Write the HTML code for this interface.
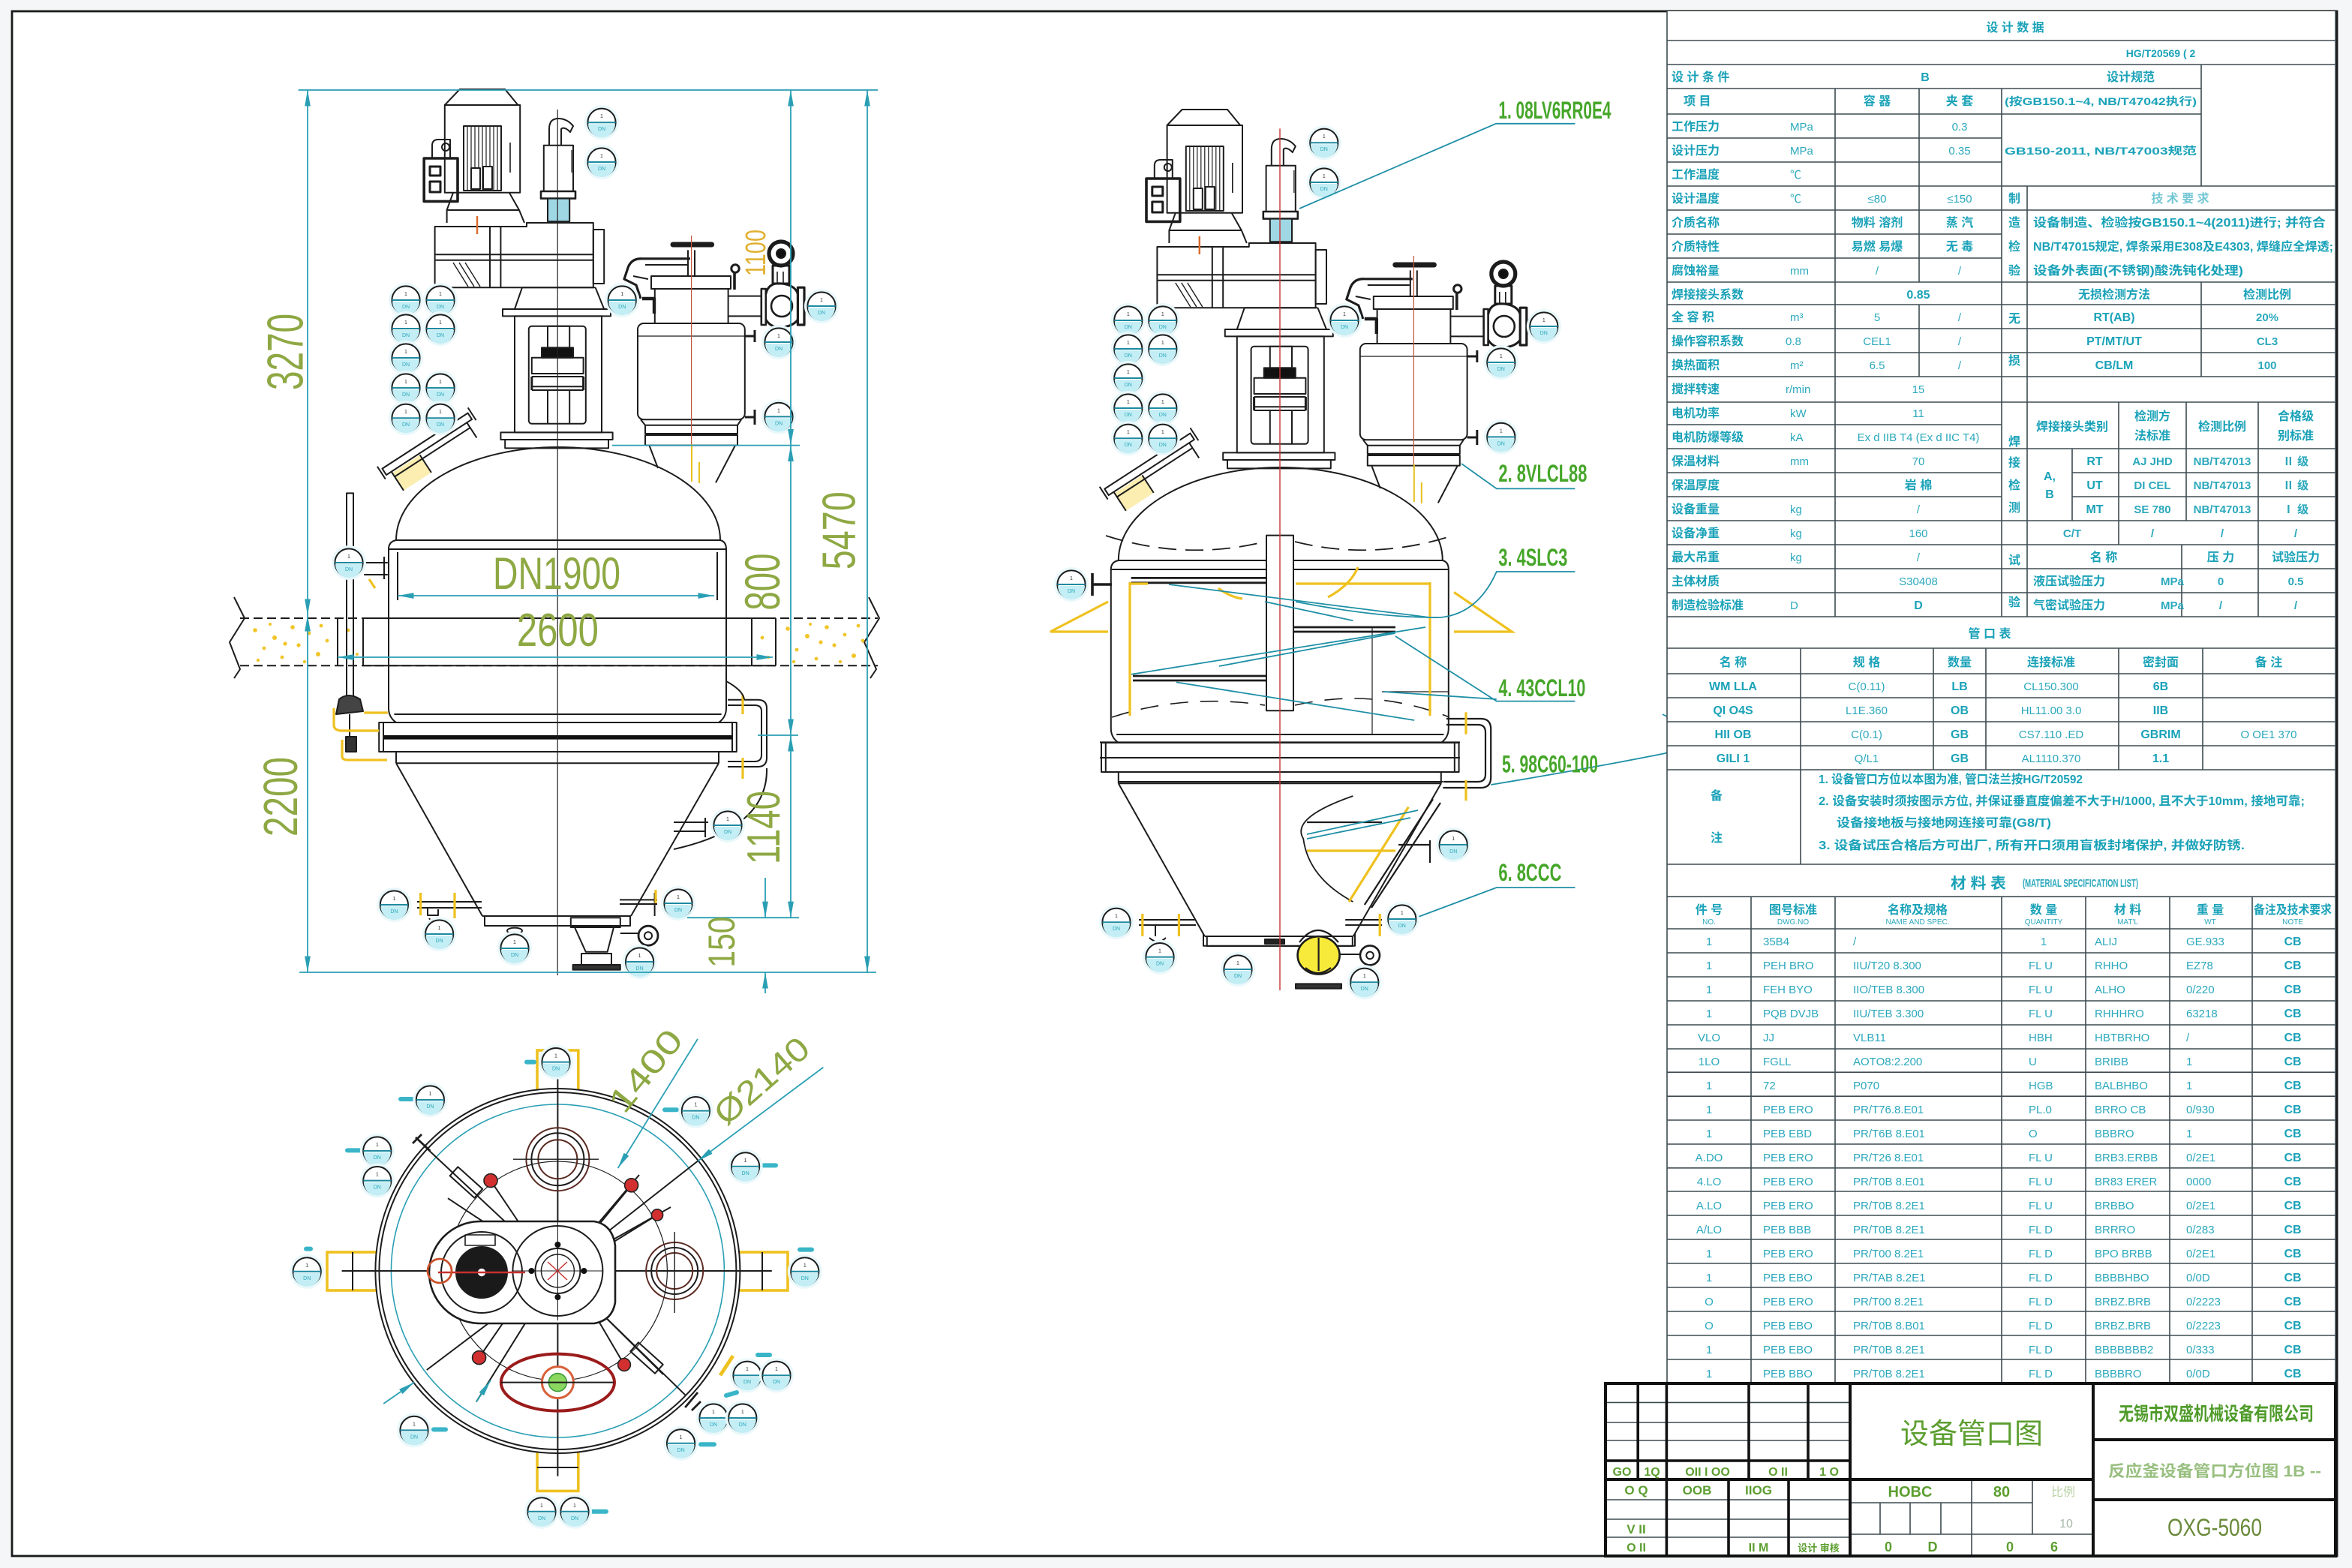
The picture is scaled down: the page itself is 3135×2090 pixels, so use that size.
<!DOCTYPE html>
<html><head><meta charset="utf-8"><style>
html,body{margin:0;padding:0;background:#f4f6f7;overflow:hidden;width:3135px;height:2090px}
svg{display:block}
.k{fill:none;stroke:#1c1c1c;stroke-width:1;stroke-linejoin:round}
.tl{fill:none;stroke:#3d4b50;stroke-width:0.8}
.tb{fill:none;stroke:#111;stroke-width:2}
.dm{fill:none;stroke:#2a9fb4;stroke-width:0.9}
.c{fill:#1aa2b8;font-size:8px;font-weight:bold}
.cn{fill:#2aa8bc;font-size:7.5px}
.cs{fill:#2aa8bc;font-size:5px}
.dt{fill:#8ea843}
.g{fill:#46a62a;font-size:16px;font-weight:bold}
.y{fill:none;stroke:#efc11f;stroke-width:1.6}
.bl{fill:none;stroke:#1e8fa5;stroke-width:0.9}
.gt{fill:#5c9e30}
</style></head><body>
<svg xmlns="http://www.w3.org/2000/svg" xmlns:xlink="http://www.w3.org/1999/xlink" width="3135" height="2090" viewBox="0 0 1567.5 1045" font-family="'Liberation Sans','Noto Sans CJK SC',sans-serif">
<defs>
<marker id="a" viewBox="0 0 10 10" refX="10" refY="5" markerWidth="12" markerHeight="12" orient="auto-start-reverse"><path d="M0,3.2L10,5L0,6.8Z" fill="#2a9fb4"/></marker>
<g id="b">
<circle r="11.5" fill="#e9f8fb"/>
<circle r="9.3" fill="#fff" stroke="#1c1c1c" stroke-width="1"/>
<path d="M-9,1A9,9 0 0 0 9,1Z" fill="#c4eef5"/>
<path d="M-9.3,0H9.3" stroke="#1d8aa0" stroke-width="1"/>
<text x="0" y="-3" font-size="3.5" text-anchor="middle" fill="#333">1</text>
<text x="0" y="5.5" font-size="3.5" text-anchor="middle" fill="#2aa8bc">DN</text>
</g>
<g id="body">
<path class="k" d="M264,360A108,62 0 0 1 480,360"/>
<path class="k" d="M264,360H480M259,366Q259,361 264,360M484,366Q484,361 480,360M259,366H484"/>
<path class="k" d="M259,366V472Q259,478 264,481.5M484,366V472Q484,478 479,481.5M262.7,476H480.8"/>
<rect class="k" x="252.6" y="481.5" width="238.3" height="19.5"/>
<path class="k" d="M255.5,481.5V501M488,481.5V501M264,501V508.6M479,501V508.6M264,508.6H479"/>
<path class="k" d="M264,508.6L321.5,610.5M479,508.6L420.5,610.5M321.5,610.5H420.5M323,610.5V617H420V610.5"/>
</g>
<g id="top">
<g class="k">
<path d="M306.4,59.5H336.6L345.2,70H296.4Z"/>
<rect x="296.4" y="70" width="50.2" height="58.4"/>
<rect x="309" y="84" width="25" height="43"/>
<path d="M311.5,84V127M314,84V127M316.5,84V127M319,84V127M321.5,84V127M324,84V127M326.5,84V127M329,84V127M331.5,84V127" stroke-width="0.6"/>
<rect x="314" y="112" width="6" height="14" fill="#fff"/><rect x="322" y="111" width="6" height="15" fill="#fff"/>
<path d="M340,95V115" stroke-width="0.8"/>
<rect x="282.6" y="105.5" width="22.4" height="28.7" stroke-width="1.8"/>
<rect x="286.5" y="111" width="7" height="6" stroke-width="1.5"/><rect x="286.5" y="121" width="7" height="7" stroke-width="1.5"/>
<path d="M288,105.5V97Q288,93 292,93H300V105.5"/>
<circle cx="297" cy="98" r="2.5"/>
<path d="M302,128.4L297.8,140V148.5M339.4,128.4L346,140L349.5,148.5M297.8,140H346"/>
<path d="M289.8,151H351V148.5H395.4V191.6H289.8Z"/>
<rect x="395.4" y="153" width="7.2" height="36"/>
<path d="M326.5,151V191.6M333.7,151V191.6M289.8,169.6H395.4M289.8,173.4H395.4"/>
<path d="M302,175L312,191M306,175L316,191M310,175L320,191" stroke-width="0.7"/>
<path d="M348,191.6L343,206M396.8,191.6L402.6,206M348,191.6H396.8"/>
<rect x="335" y="206" width="72" height="4.7"/>
<rect x="343" y="210.7" width="58" height="77.5"/>
<rect x="352.4" y="217.4" width="38" height="65" rx="2"/>
<rect x="365" y="217.4" width="14.6" height="14.3"/>
<rect x="361" y="231.7" width="21" height="6.7" fill="#111"/>
<rect x="354.4" y="238.4" width="34.4" height="10.6"/>
<path d="M354.4,251H388.8M354.4,257.6H388.8M354.4,260H388.8M365,260V282.4M379.6,260V282.4"/>
<path d="M354.4,251V260M388.8,251V260" stroke-width="1.5"/>
<rect x="333.7" y="288.2" width="74.6" height="4.8"/>
<rect x="336.6" y="293" width="68.9" height="5.7"/>
<rect x="362.4" y="96.9" width="19.6" height="30.6"/>
<path d="M366,96.9V86Q366,79 372,79Q378,79 382,84L380,88Q376,84 374,86V96.9"/>
<path d="M381,100V115" stroke-width="0.6"/>
<rect x="360.5" y="127.5" width="23" height="4.8" stroke-width="1.3"/>
<rect x="365" y="132.3" width="14.6" height="15.3" fill="#9fd7e4"/>
<rect x="434" y="184" width="53" height="8.5"/>
<rect x="436.4" y="192.5" width="48.9" height="23"/>
<rect x="425" y="215.5" width="71.4" height="64.1" rx="4"/>
<path d="M425,224H496.4" stroke-width="0.6"/>
<rect x="430" y="283.4" width="61.5" height="5.6"/>
<rect x="430" y="290" width="61.5" height="6.8"/>
<path d="M432.7,296.8L438.5,312M490,296.8L477,321.7M427,279.6L430,283.4M494,279.6L491.5,283.4"/>
<path d="M448.5,163H474.3" stroke-width="3.5" stroke-linecap="round"/>
<path d="M458.5,166.7V184M463,166.7V184"/>
<path d="M460,172.4H428Q420,172 418,180L416,186L424,190L427,199" stroke-width="1.6"/>
<path d="M430,176.5H458M422,184L432,186"/>
<path d="M428,199H436V209" stroke-width="2.2"/>
<circle cx="490" cy="179" r="2.6" stroke-width="1.5"/><path d="M489.5,182V193" stroke-width="1.8"/>
<path d="M485.3,197.3H507.4V210.7H485.3"/>
<rect x="507.4" y="192.5" width="3" height="24" stroke-width="1.3"/>
<circle cx="520.5" cy="169" r="8" stroke-width="2.6"/><circle cx="520.5" cy="169" r="3" fill="#111"/>
<rect x="515" y="177" width="11" height="12" stroke-width="1.5"/>
<path d="M518,181V189M522,181V189" stroke-width="0.8"/>
<path d="M510.4,196Q512,188 521,189Q530,190 531.7,196M510.4,213Q514,219 522,218Q529,217 531.7,213" stroke-width="1.5"/>
<circle cx="521" cy="204" r="7" stroke-width="1.3"/>
<rect x="531.7" y="191.6" width="4.3" height="24.9" stroke-width="1.6"/>
<path d="M496.4,224H503M503,220V228" stroke-width="1.5"/>
<path d="M496.4,278H503M503,273V283" stroke-width="1.5"/>
</g>
<path d="M460.8,157V296" stroke="#c0553a" stroke-width="0.6" fill="none"/>
<path d="M461,296V321M466,308V322" stroke="#e8c020" stroke-width="1" fill="none"/>
<path d="M318,144V156" stroke="#d86a2a" stroke-width="1.2"/>
<g transform="translate(286,298) rotate(-33)">
<rect x="-30" y="1" width="22" height="14" fill="#fbeeb0"/>
<rect class="k" x="-34" y="-5" width="68" height="5" stroke-width="1.4"/>
<path class="k" d="M-36,-8V2M36,-8V2" stroke-width="2.4"/>
<path class="k" d="M-30,0V15M30,0V12M-30,4H30"/>
<path class="k" d="M-8,1V15"/>
</g>
<use href="#b" x="401" y="81.6"/><use href="#b" x="401" y="108"/>
<use href="#b" x="270.5" y="200"/><use href="#b" x="293.5" y="200"/>
<use href="#b" x="270.5" y="219"/><use href="#b" x="293.5" y="219"/>
<use href="#b" x="270.5" y="238.5"/>
<use href="#b" x="270.5" y="258.5"/><use href="#b" x="293.5" y="258.5"/>
<use href="#b" x="270.5" y="278.6"/><use href="#b" x="293.5" y="278.6"/>
<use href="#b" x="414.6" y="200"/><use href="#b" x="547.5" y="204"/>
<use href="#b" x="519" y="228"/><use href="#b" x="519" y="277.7"/>
</g>
</defs>

<!-- paper -->
<rect x="8" y="7.5" width="1549.5" height="1029.5" fill="#fff" stroke="#1a1a1a" stroke-width="1.4"/>

<!-- ================= LEFT ELEVATION ================= -->
<path class="k" d="M160,412H585M160,443.6H585" stroke-dasharray="6,3" stroke-width="0.9"/>
<path class="k" d="M242,412H517M242,443.6H517" stroke-width="0.9"/>
<path class="k" d="M156,398L163,412L153,428L160,446L156,452M579,398L586,412L576,428L584,446L580,452" stroke-width="0.9"/>
<path class="k" d="M225,412V443.6M242,412V443.6M501,412V443.6M517,412V443.6" stroke-width="0.8"/>
<g fill="#f0c528">
<circle cx="170" cy="420" r="1.4"/><circle cx="176" cy="432" r="1.2"/><circle cx="183" cy="425" r="1.5"/><circle cx="188" cy="438" r="1.2"/><circle cx="195" cy="418" r="1.4"/><circle cx="199" cy="430" r="1.3"/><circle cx="206" cy="422" r="1.2"/><circle cx="212" cy="436" r="1.5"/><circle cx="218" cy="427" r="1.2"/><circle cx="172" cy="440" r="1.1"/><circle cx="190" cy="429" r="1.3"/><circle cx="203" cy="441" r="1.1"/><circle cx="214" cy="417" r="1.2"/><circle cx="180" cy="416" r="1"/><circle cx="232" cy="420" r="1.2"/><circle cx="238" cy="436" r="1"/>
<circle cx="525" cy="419" r="1.4"/><circle cx="531" cy="433" r="1.2"/><circle cx="538" cy="424" r="1.5"/><circle cx="544" cy="439" r="1.2"/><circle cx="551" cy="418" r="1.4"/><circle cx="556" cy="430" r="1.3"/><circle cx="563" cy="423" r="1.2"/><circle cx="569" cy="437" r="1.5"/><circle cx="575" cy="427" r="1.2"/><circle cx="529" cy="441" r="1.1"/><circle cx="547" cy="428" r="1.3"/><circle cx="560" cy="441" r="1.1"/><circle cx="572" cy="417" r="1.2"/><circle cx="540" cy="416" r="1"/><circle cx="508" cy="425" r="1.2"/><circle cx="512" cy="438" r="1"/>
</g>
<use href="#body"/>
<rect x="256" y="490" width="232" height="2.8" fill="#111"/>
<path class="k" d="M265,368V400M478,368V400" stroke-width="0.8"/>
<use href="#top"/>
<path d="M371.6,73V650" stroke="#222" stroke-width="0.6"/>
<g class="k">
<path d="M380.4,611.6H413.4V618H380.4Z"/>
<path d="M383,618H409L404.8,634.4H390.4Z"/>
<rect x="387.5" y="635.5" width="20" height="7.5"/>
<rect x="381.8" y="643" width="31.6" height="3.3" fill="#333"/>
<path d="M413.4,622H425"/>
<circle cx="432" cy="623.6" r="6.5" stroke-width="1.4"/><circle cx="432" cy="623.6" r="2.5"/>
<ellipse cx="343" cy="620.3" rx="5" ry="2" />
<path d="M278,601H321M278,605H321M413,599.7H438M413,602.5H438M436.3,595V610.5"/>
<path d="M285,605V610H292V606M286,612Q288.5,616 291,612"/>
<path d="M449,548H472M449,554H470M470,545V558"/>
</g>
<path class="y" d="M280.3,595V610M303,595V612M437,593V602" stroke-width="2.2"/>
<g class="k">
<rect x="231" y="328.7" width="4.5" height="136"/>
<path d="M226,466Q232,461 240,466L242,474L224,476Z" fill="#444"/>
<path d="M233,476V491"/>
<rect x="230.5" y="491" width="7" height="10" fill="#333"/>
<path d="M242.6,375H258.4M242.6,383H258.4M256,371V386"/>
</g>
<path class="y" d="M222.5,472V483Q222.5,487 228,487H252.6M242.6,475H258.4M228,493V504Q228,506.5 232,506.5H258M246,386L250,392"/>
<path class="k" d="M485,466.4H505Q511,466.4 511,472V505Q511,511 505,511H485M485,470H503Q507.5,470 507.5,474V503Q507.5,507.5 503,507.5H485" stroke-width="1.1"/>
<path class="y" d="M495,463V476M495,505V519" stroke-width="2.6"/>
<path class="k" d="M511,512Q512,552 449,566M484,454Q495,460 496,466" stroke-width="0.9"/>
<use href="#b" x="232.5" y="375"/>
<use href="#b" x="262.7" y="603"/><use href="#b" x="292.8" y="622.5"/>
<use href="#b" x="343" y="632"/><use href="#b" x="426.3" y="641"/>
<use href="#b" x="452" y="602"/><use href="#b" x="485" y="550"/>
<g class="dm">
<path d="M198.8,60H585M199.5,648H584M408,296.8H533M505,490H532M458,611.6H532.5"/>
<path d="M205,60V410" marker-start="url(#a)" marker-end="url(#a)"/>
<path d="M205,410V648" marker-start="url(#a)" marker-end="url(#a)"/>
<path d="M527,60V296.8" marker-start="url(#a)" marker-end="url(#a)"/>
<path d="M527,296.8V490" marker-start="url(#a)" marker-end="url(#a)"/>
<path d="M527,490V611.6" marker-start="url(#a)" marker-end="url(#a)"/>
<path d="M578,60V648" marker-start="url(#a)" marker-end="url(#a)"/>
<path d="M510,585V611.6" marker-end="url(#a)"/>
<path d="M510,662V648" marker-end="url(#a)"/>
<path d="M265,397H476" marker-start="url(#a)" marker-end="url(#a)"/>
<path d="M225,438H515" marker-start="url(#a)" marker-end="url(#a)"/>
</g>
<g class="dt">
<text transform="translate(201.7,234.5) rotate(-90)" font-size="34" text-anchor="middle" textLength="51" lengthAdjust="spacingAndGlyphs">3270</text>
<text transform="translate(198,531) rotate(-90)" font-size="32" text-anchor="middle" textLength="53" lengthAdjust="spacingAndGlyphs">2200</text>
<text transform="translate(569.8,353.6) rotate(-90)" font-size="31" text-anchor="middle" textLength="52" lengthAdjust="spacingAndGlyphs">5470</text>
<text transform="translate(519.6,387.8) rotate(-90)" font-size="33" text-anchor="middle" textLength="38" lengthAdjust="spacingAndGlyphs">800</text>
<text transform="translate(519.6,551.5) rotate(-90)" font-size="31" text-anchor="middle" textLength="49" lengthAdjust="spacingAndGlyphs">1140</text>
<text transform="translate(489.4,627.8) rotate(-90)" font-size="25" text-anchor="middle" textLength="34" lengthAdjust="spacingAndGlyphs">150</text>
<text x="371" y="392.6" font-size="30" text-anchor="middle" textLength="85" lengthAdjust="spacingAndGlyphs">DN1900</text>
<text x="371.7" y="430.6" font-size="31" text-anchor="middle" textLength="54.5" lengthAdjust="spacingAndGlyphs">2600</text>
</g>
<text transform="translate(510,168.5) rotate(-90)" font-size="19" fill="#e0b030" text-anchor="middle" textLength="31" lengthAdjust="spacingAndGlyphs">1100</text>

<!-- ================= MIDDLE ELEVATION ================= -->
<use href="#body" transform="translate(481.4,13.5)"/>
<use href="#top" transform="translate(481.4,13.5)"/>
<g class="k">
<path d="M737,357Q790,374 843,361M863,361Q915,374 968,357" stroke-dasharray="12,6" stroke-width="0.9"/>
<path d="M741,478Q790,462 843,470M863,470Q915,458 966,478" stroke-dasharray="12,8" stroke-width="0.8"/>
<rect x="844" y="356.8" width="18" height="116.8" fill="#fff"/>
<path d="M753.8,385.2H844M753.8,388.4H844M862,418H930M862,421H930M755,450.5H844M755,453.5H844" stroke-width="1.4"/>
<path d="M914.5,418V490M921,461H965.5" stroke-width="0.6"/>
<path d="M728,382V397M728,389.5H741" stroke-width="1.8"/>
<path d="M733,494.7H973M733,505H973" />
<path d="M745,521H961.7" />
<path d="M802,622V630.4H903V622" />
<path d="M843,626H856V629H843Z" fill="#222"/>
<path d="M901.7,530.5Q860,545 868.6,558.9Q872,585 901.7,601" stroke-width="0.9"/>
<path d="M871,548H921M955,532.6L909.4,603M960,535L914,605M932,563H953M953,560V575" stroke-width="1.1"/>
<path d="M964,479H987Q993.6,479 993.6,486V518Q993.6,525 987,525H961.7M964,483H985Q990,483 990,488V516Q990,521 985,521H962" stroke-width="1.1"/>
<path d="M759,613H797M759,616.5H797M896.6,613H921M896.6,616.5H921M770,617V624M766,625Q771.6,630 777,625" />
<ellipse cx="878.8" cy="636.7" rx="14" ry="12.6" fill="#f7ea3a" stroke-width="1.3"/>
<path d="M866,628Q878,612 892,628M870,645Q878,652 887,645M878.8,625V647" stroke-width="1.1"/>
<rect x="863.5" y="655.7" width="30.5" height="3.1" fill="#333"/>
<circle cx="913" cy="636.7" r="6.5" stroke-width="1.3"/><circle cx="913" cy="636.7" r="2.4"/>
<path d="M893,636H906"/>
</g>
<path d="M853,85.7V660" stroke="#c43434" stroke-width="0.7"/>
<path class="y" d="M753,388V477M953,388V477M863.5,389H953M753,389H765M871,567H930M938.7,537.8L899,601M761.4,609V624M785.7,609V624M919.6,609V624M977,474.7V489.4M977,520V533.6"/>
<path class="y" d="M738.5,401L700,421H738.5M969,394.7L1007.6,421H969"/>
<path class="y" d="M812,392Q820,398 828,399M885,398Q900,390 905,378"/>
<g class="bl">
<path d="M779,389.5L952.8,411.5M754,449.4L950,418M784,454.7L942.6,480M843,401L901.7,413.6M812.4,444L929.8,422M871,556L945,540M871,559L940,545"/>
</g>
<g class="bl">
<path d="M866,139L997,82.4H1049.7"/>
<path d="M974,309L997.4,325.7H1049.7"/>
<path d="M863.5,401Q920,412 960,411.5Q985,409 997.4,381H1049.7"/>
<path d="M930,424L997.4,467.3H1049.7M922,461L997.4,466"/>
<path d="M1108,476Q1132,488 1110,502Q1060,512 993.6,523"/>
<path d="M944,611.5L997.4,591.5H1049.7"/>
</g>
<g class="g">
<text x="998.7" y="79" textLength="75" lengthAdjust="spacingAndGlyphs">1. 08LV6RR0E4</text>
<text x="998.7" y="321" textLength="59" lengthAdjust="spacingAndGlyphs">2. 8VLCL88</text>
<text x="998.7" y="377" textLength="46" lengthAdjust="spacingAndGlyphs">3. 4SLC3</text>
<text x="998.7" y="464" textLength="58" lengthAdjust="spacingAndGlyphs">4. 43CCL10</text>
<text x="1001" y="514.7" textLength="64" lengthAdjust="spacingAndGlyphs">5. 98C60-100</text>
<text x="998.7" y="587" textLength="42" lengthAdjust="spacingAndGlyphs">6. 8CCC</text>
</g>
<use href="#b" x="714" y="389.5"/><use href="#b" x="744" y="614.6"/><use href="#b" x="773" y="637.8"/>
<use href="#b" x="825" y="646"/><use href="#b" x="909.4" y="654.6"/><use href="#b" x="934.4" y="612.5"/>
<use href="#b" x="968.6" y="563"/>

<!-- ================= PLAN VIEW ================= -->
<g>
<rect x="358" y="700" width="27.4" height="32.5" fill="none" stroke="#efc11f" stroke-width="1.8"/>
<rect x="218" y="834.5" width="34.5" height="25.5" fill="none" stroke="#efc11f" stroke-width="1.8"/>
<rect x="491" y="834.5" width="34" height="25.5" fill="none" stroke="#efc11f" stroke-width="1.8"/>
<rect x="358" y="960" width="27.4" height="33.7" fill="none" stroke="#efc11f" stroke-width="1.8"/>
<path class="k" d="M235,834.5V860M508,834.5V860M358,978H385.4" stroke-width="0.7"/>
<circle cx="371.7" cy="847" r="121.5" fill="#fff" stroke="#1c1c1c" stroke-width="1"/>
<circle cx="371.7" cy="847" r="119" fill="none" stroke="#1c1c1c" stroke-width="1"/>
<circle cx="371.7" cy="847" r="111" fill="none" stroke="#2a9fb4" stroke-width="0.8"/>
<circle cx="371.7" cy="847" r="73" fill="none" stroke="#1c1c1c" stroke-width="0.6"/>
<g class="k" stroke-width="0.55">
<path d="M371.7,699.5V983.8M227.8,847H514.4"/>
<path d="M283,764L345.4,822.4M298.5,798.6L341.7,827.2M426,783L395,819.6M447,804.5L403,829.3M465,773.8L400,824.8M284.4,913L343,868.7M456.6,929.6L397.5,872M317.4,934.3L352.7,877.6M442,916L397.5,872"/>
<path d="M327,786.8L348,818M420.8,789.9L396,820M438,809.7L402,832M319.3,904.8L346,866M416,909.5L394,872"/>
</g>
<g class="k">
<circle cx="371.7" cy="772.6" r="21" stroke="#5a2a22"/><circle cx="371.7" cy="772.6" r="17.5"/><circle cx="371.7" cy="772.6" r="13" stroke="#5a2a22"/>
<path d="M342,772.6H399" stroke-width="0.7"/>
<circle cx="449.6" cy="847" r="19" stroke="#5a2a22"/><circle cx="449.6" cy="847" r="15.5"/><circle cx="449.6" cy="847" r="12" stroke="#5a2a22"/>
<path d="M449.6,821V875" stroke-width="0.7"/>
<path d="M320,814H396Q408,816 410,830V868Q408,880 396,882H320A34,34 0 0 1 320,814Z" stroke-width="1.3" fill="#fff"/>
<circle cx="321" cy="848" r="27"/>
<path d="M310,823H330V830H310Z" stroke-width="0.8"/>
<circle cx="321" cy="848" r="17" fill="#1a1a1a"/>
<circle cx="321" cy="848" r="2.6" fill="#fff" stroke="none"/>
<circle cx="371.7" cy="847" r="30"/>
<circle cx="371.7" cy="847" r="15"/><circle cx="371.7" cy="847" r="11" stroke-width="0.7"/>
<path d="M371.7,814V880M341,847H402" stroke-width="0.55"/>
<rect x="299.7" y="784" width="22" height="8" transform="rotate(42 310.7 788)"/>
<rect x="420" y="901" width="22" height="8" transform="rotate(42 431 905)"/>
<path d="M277,758L286.7,767M275,762L281,756M456.6,938L465,928M461,940L467,934" stroke-width="1.4"/>
</g>
<g fill="#111"><circle cx="371.7" cy="829.5" r="2"/><circle cx="371.7" cy="864.5" r="2"/><circle cx="354.2" cy="847" r="2"/><circle cx="389.2" cy="847" r="2"/></g>
<path d="M365,841L378,853M378,841L365,853" stroke="#c83030" stroke-width="0.7"/>
<path d="M292,848H350" stroke="#c83030" stroke-width="1.3"/>
<circle cx="293" cy="847" r="8" fill="none" stroke="#c8502a" stroke-width="1.4"/>
<ellipse cx="371.7" cy="921.3" rx="37.8" ry="19" fill="none" stroke="#9b1b1b" stroke-width="2"/>
<circle cx="371.7" cy="921.3" r="10.5" fill="#fff" stroke="#d8603a" stroke-width="1.5"/>
<circle cx="371.7" cy="921.3" r="6" fill="#8ad860" stroke="#3e9a3a" stroke-width="0.8"/>
<path class="k" d="M334,921.3H409" stroke-width="0.6"/>
<g fill="#d23030" stroke="#222" stroke-width="0.8">
<circle cx="327" cy="786.8" r="4.5"/><circle cx="420.8" cy="789.9" r="4.5"/><circle cx="438" cy="809.7" r="3.8"/><circle cx="319.3" cy="904.8" r="4.5"/><circle cx="416" cy="909.5" r="4.2"/>
</g>
<path d="M480,916.6L488.5,903.6" stroke="#efc11f" stroke-width="2.4"/>
<g class="dm">
<path d="M465,692.4L411.8,778.5" marker-end="url(#a)"/>
<path d="M548.7,711.3L465,773.8" marker-end="url(#a)"/>
<path d="M255.6,935.5L276,921.3" marker-end="url(#a)"/>
<path d="M317.4,934.3L326.9,920" marker-end="url(#a)"/>
</g>
<text transform="translate(430.7,714) rotate(-51)" font-size="22" class="dt" text-anchor="middle" y="7" textLength="64" lengthAdjust="spacingAndGlyphs">1400</text>
<text transform="translate(508,720.7) rotate(-41)" font-size="22" class="dt" text-anchor="middle" y="7" textLength="76" lengthAdjust="spacingAndGlyphs">Ø2140</text>
<g stroke="#3ab5c8" stroke-width="3" stroke-linecap="round" fill="none">
<path d="M351,707.8H356M267,732.5H275M231.5,766.7H240M204,832.3H207M443,739.6H451M509,776.7H517M533,832.8H541M505,903H513M484,930L491,928M467,962.6H476M289,952.7H297M395,1007.4H404"/>
</g>
<use href="#b" x="370.5" y="707.8"/><use href="#b" x="286.7" y="733"/><use href="#b" x="251.4" y="767"/>
<use href="#b" x="251.4" y="786.8"/><use href="#b" x="204.6" y="847.4"/><use href="#b" x="463.7" y="740.3"/>
<use href="#b" x="496.8" y="777.4"/><use href="#b" x="536.4" y="847.4"/><use href="#b" x="498" y="916.6"/>
<use href="#b" x="517.5" y="916.6"/><use href="#b" x="475.5" y="945"/><use href="#b" x="494.9" y="945"/>
<use href="#b" x="453.8" y="961.9"/><use href="#b" x="276" y="953.2"/><use href="#b" x="361" y="1007.4"/>
<use href="#b" x="383" y="1007.4"/>
</g>

<!-- ================= TABLES ================= -->
<rect x="1111" y="7.5" width="445.5" height="914.5" fill="#fff"/>
<g class="tl">
<path d="M1111,7.5V922M1556.5,7.5V922"/>
<path d="M1111,27H1556.5M1111,43H1556.5M1111,59H1467M1111,76H1467M1111,92H1334M1111,108H1334M1111,124H1556.5M1111,140H1556.5M1111,156H1334M1111,172H1334M1111,188H1556.5M1111,203H1556.5M1111,219H1556.5M1111,235H1556.5M1111,251H1556.5M1111,268H1556.5M1111,283H1334M1111,299H1556.5M1111,315H1334M1381,315H1556.5M1111,331H1334M1381,331H1556.5M1111,347H1556.5M1111,363H1556.5M1111,379H1556.5M1111,395H1556.5M1111,411H1556.5"/>
<path d="M1223,59V411M1279,59V188M1279,203V251M1334,59V411M1351,124V411M1467,43V124M1467,188V251M1412,268V363M1457,268V347M1505,268V411M1381,299V347M1454,363V411"/>
<path d="M1111,432H1556.5M1111,449H1556.5M1111,465H1556.5M1111,481H1556.5M1111,497H1556.5M1111,513H1556.5M1111,576H1556.5M1111,597.6H1556.5M1111,619H1556.5"/>
<path d="M1200,432V576M1288.5,432V513M1323.5,432V513M1412,432V513M1468,432V513"/>
<path d="M1111,635H1556.5M1111,651H1556.5M1111,667H1556.5M1111,683H1556.5M1111,699H1556.5M1111,714.6H1556.5M1111,730.6H1556.5M1111,746.5H1556.5M1111,762.5H1556.5M1111,778.4H1556.5M1111,794H1556.5M1111,810H1556.5M1111,826H1556.5M1111,842H1556.5M1111,858H1556.5M1111,874H1556.5M1111,890H1556.5M1111,906H1556.5"/>
<path d="M1167,597.6V922M1223,597.6V922M1334,597.6V922M1390,597.6V922M1446,597.6V922M1501,597.6V922"/>
</g>
<g class="c">
<text x="1343" y="21" text-anchor="middle">设 计 数 据</text>
<text x="1440" y="38" text-anchor="middle" font-size="7">HG/T20569 ( 2</text>
<text x="1114" y="54">设 计 条 件</text><text x="1283" y="54" text-anchor="middle">B</text><text x="1420" y="54" text-anchor="middle">设计规范</text>
<text x="1122" y="70">项 目</text><text x="1251" y="70" text-anchor="middle">容 器</text><text x="1306" y="70" text-anchor="middle">夹 套</text>
<text x="1400" y="70" text-anchor="middle" font-size="7" textLength="128" lengthAdjust="spacingAndGlyphs">(按GB150.1~4, NB/T47042执行)</text>
<text x="1400" y="103" text-anchor="middle" font-size="7" textLength="128" lengthAdjust="spacingAndGlyphs">GB150-2011, NB/T47003规范</text>
</g>
<g class="c" font-size="7.5">
<text x="1114" y="87">工作压力</text><text x="1114" y="103">设计压力</text><text x="1114" y="119">工作温度</text><text x="1114" y="135">设计温度</text>
<text x="1114" y="151">介质名称</text><text x="1114" y="167">介质特性</text><text x="1114" y="183">腐蚀裕量</text><text x="1114" y="199">焊接接头系数</text>
<text x="1114" y="214">全 容 积</text><text x="1114" y="230">操作容积系数</text><text x="1114" y="246">换热面积</text><text x="1114" y="262">搅拌转速</text>
<text x="1114" y="278">电机功率</text><text x="1114" y="294">电机防爆等级</text><text x="1114" y="310">保温材料</text><text x="1114" y="326">保温厚度</text>
<text x="1114" y="342">设备重量</text><text x="1114" y="358">设备净重</text><text x="1114" y="374">最大吊重</text><text x="1114" y="390">主体材质</text><text x="1114" y="406">制造检验标准</text>
</g>
<g class="cn" font-size="6.5">
<text x="1193" y="87">MPa</text><text x="1193" y="103">MPa</text><text x="1193" y="119">℃</text><text x="1193" y="135">℃</text>
<text x="1193" y="183">mm</text><text x="1193" y="214">m³</text><text x="1190" y="230">0.8</text><text x="1193" y="246">m²</text>
<text x="1190" y="262">r/min</text><text x="1193" y="278">kW</text><text x="1193" y="294">kA</text><text x="1193" y="310">mm</text>
<text x="1193" y="342">kg</text><text x="1193" y="358">kg</text><text x="1193" y="374">kg</text><text x="1193" y="406">D</text>
</g>
<g class="cn" text-anchor="middle">
<text x="1306" y="87">0.3</text><text x="1306" y="103">0.35</text>
<text x="1251" y="135">≤80</text><text x="1306" y="135">≤150</text>
<text x="1251" y="151" class="c" font-size="7.5">物料 溶剂</text><text x="1306" y="151" class="c" font-size="7.5">蒸 汽</text>
<text x="1251" y="167" class="c" font-size="7.5">易燃 易爆</text><text x="1306" y="167" class="c" font-size="7.5">无 毒</text>
<text x="1251" y="183">/</text><text x="1306" y="183">/</text>
<text x="1278.5" y="199" class="c" font-size="7.5">0.85</text>
<text x="1251" y="214">5</text><text x="1306" y="214">/</text>
<text x="1251" y="230">CEL1</text><text x="1306" y="230">/</text>
<text x="1251" y="246">6.5</text><text x="1306" y="246">/</text>
<text x="1278.5" y="262">15</text><text x="1278.5" y="278">11</text>
<text x="1278.5" y="294">Ex d IIB T4 (Ex d IIC T4)</text>
<text x="1278.5" y="310">70</text><text x="1278.5" y="326" class="c" font-size="7.5">岩 棉</text>
<text x="1278.5" y="342">/</text><text x="1278.5" y="358">160</text><text x="1278.5" y="374">/</text>
<text x="1278.5" y="390">S30408</text><text x="1278.5" y="406" class="c" font-size="7.5">D</text>
</g>
<g class="c" text-anchor="middle">
<text x="1342.5" y="135">制</text><text x="1342.5" y="151">造</text><text x="1342.5" y="167">检</text><text x="1342.5" y="183">验</text>
<text x="1342.5" y="215">无</text><text x="1342.5" y="243">损</text>
<text x="1342.5" y="297">焊</text><text x="1342.5" y="311">接</text><text x="1342.5" y="326">检</text><text x="1342.5" y="341">测</text>
<text x="1342.5" y="376">试</text><text x="1342.5" y="404">验</text>
<text x="1453" y="135" opacity="0.6">技 术 要 求</text>
<text x="1409" y="199">无损检测方法</text><text x="1511" y="199">检测比例</text>
<text x="1409" y="214">RT(AB)</text><text x="1511" y="214" class="cn">20%</text>
<text x="1409" y="230">PT/MT/UT</text><text x="1511" y="230" class="cn">CL3</text>
<text x="1409" y="246">CB/LM</text><text x="1511" y="246" class="cn">100</text>
<text x="1381" y="287">焊接接头类别</text>
<text x="1434.5" y="280">检测方</text><text x="1434.5" y="293">法标准</text>
<text x="1481" y="287">检测比例</text>
<text x="1530" y="280">合格级</text><text x="1530" y="293">别标准</text>
<text x="1366" y="320">A,</text><text x="1366" y="332">B</text>
<text x="1396" y="310">RT</text><text x="1396" y="326">UT</text><text x="1396" y="342">MT</text>
<text x="1434.5" y="310" class="cn">AJ JHD</text><text x="1434.5" y="326" class="cn">DI CEL</text><text x="1434.5" y="342" class="cn">SE 780</text>
<text x="1481" y="310" class="cn">NB/T47013</text><text x="1481" y="326" class="cn">NB/T47013</text><text x="1481" y="342" class="cn">NB/T47013</text>
<text x="1530" y="310" class="cn">Ⅱ 级</text><text x="1530" y="326" class="cn">Ⅱ 级</text><text x="1530" y="342" class="cn">Ⅰ 级</text>
<text x="1381" y="358" class="cn">C/T</text><text x="1434.5" y="358" class="cn">/</text><text x="1481" y="358" class="cn">/</text><text x="1530" y="358" class="cn">/</text>
<text x="1402" y="374">名 称</text><text x="1480" y="374">压 力</text><text x="1530" y="374">试验压力</text>
<text x="1480" y="390" class="cn">0</text><text x="1530" y="390" class="cn">0.5</text>
<text x="1480" y="406" class="cn">/</text><text x="1530" y="406" class="cn">/</text>
</g>
<g class="c" font-size="7.5">
<text x="1355" y="390">液压试验压力</text><text x="1440" y="390" class="cn" font-size="6">MPa</text>
<text x="1355" y="406">气密试验压力</text><text x="1440" y="406" class="cn" font-size="6">MPa</text>
</g>
<g class="c" font-size="7">
<text x="1355" y="151" textLength="195" lengthAdjust="spacingAndGlyphs">设备制造、检验按GB150.1~4(2011)进行; 并符合</text>
<text x="1355" y="167" textLength="200" lengthAdjust="spacingAndGlyphs">NB/T47015规定, 焊条采用E308及E4303, 焊缝应全焊透;</text>
<text x="1355" y="183" textLength="140" lengthAdjust="spacingAndGlyphs">设备外表面(不锈钢)酸洗钝化处理)</text>
</g>
<g class="c" text-anchor="middle" font-size="9">
<text x="1326" y="425">管 口 表</text>
</g>
<g class="c" text-anchor="middle" font-size="7.5">
<text x="1155" y="444">名 称</text><text x="1244" y="444">规 格</text><text x="1306" y="444">数量</text><text x="1367" y="444">连接标准</text><text x="1440" y="444">密封面</text><text x="1512" y="444">备 注</text>
<text x="1155" y="460">WM LLA</text><text x="1306" y="460">LB</text><text x="1440" y="460">6B</text>
<text x="1155" y="476">QI O4S</text><text x="1306" y="476">OB</text><text x="1440" y="476">IIB</text>
<text x="1155" y="492">HII OB</text><text x="1306" y="492">GB</text><text x="1440" y="492">GBRIM</text>
<text x="1155" y="508">GILI 1</text><text x="1306" y="508">GB</text><text x="1440" y="508">1.1</text>
</g>
<g class="cn" text-anchor="middle">
<text x="1244" y="460">C(0.11)</text><text x="1367" y="460">CL150.300</text>
<text x="1244" y="476">L1E.360</text><text x="1367" y="476">HL11.00 3.0</text>
<text x="1244" y="492">C(0.1)</text><text x="1367" y="492">CS7.110 .ED</text><text x="1512" y="492">O OE1 370</text>
<text x="1244" y="508">Q/L1</text><text x="1367" y="508">AL1110.370</text>
</g>
<g class="c" font-size="7.5">
<text x="1140" y="533">备</text><text x="1140" y="561">注</text>
<text x="1212" y="522" textLength="176" lengthAdjust="spacingAndGlyphs">1. 设备管口方位以本图为准, 管口法兰按HG/T20592</text>
<text x="1212" y="536.5" textLength="324" lengthAdjust="spacingAndGlyphs">2. 设备安装时须按图示方位, 并保证垂直度偏差不大于H/1000, 且不大于10mm, 接地可靠;</text>
<text x="1224" y="551" textLength="143" lengthAdjust="spacingAndGlyphs">设备接地板与接地网连接可靠(G8/T)</text>
<text x="1212" y="566" textLength="284" lengthAdjust="spacingAndGlyphs">3. 设备试压合格后方可出厂, 所有开口须用盲板封堵保护, 并做好防锈.</text>
</g>
<g class="c">
<text x="1300" y="592" font-size="10" textLength="37" lengthAdjust="spacingAndGlyphs">材 料 表</text>
<text x="1348" y="591" font-size="5.5" class="cn" textLength="77" lengthAdjust="spacingAndGlyphs">(MATERIAL SPECIFICATION LIST)</text>
</g>
<g class="c" text-anchor="middle" font-size="7">
<text x="1139" y="609">件 号</text><text x="1195" y="609">图号标准</text><text x="1278" y="609">名称及规格</text><text x="1362" y="609">数 量</text><text x="1418" y="609">材 料</text><text x="1473" y="609">重 量</text><text x="1528" y="609" textLength="52" lengthAdjust="spacingAndGlyphs">备注及技术要求</text>
</g>
<g class="cs" text-anchor="middle">
<text x="1139" y="616">NO.</text><text x="1195" y="616">DWG.NO</text><text x="1278" y="616">NAME AND SPEC.</text><text x="1362" y="616">QUANTITY</text><text x="1418" y="616">MAT'L</text><text x="1473" y="616">WT</text><text x="1528" y="616">NOTE</text>
</g>
<g class="cn" font-size="7.2">
<text x="1139" y="630" text-anchor="middle">1</text><text x="1175" y="630">35B4</text><text x="1235" y="630">/</text><text x="1362" y="630" text-anchor="middle">1</text><text x="1396" y="630">ALIJ</text><text x="1457" y="630">GE.933</text>
<text x="1139" y="646" text-anchor="middle">1</text><text x="1175" y="646">PEH BRO</text><text x="1235" y="646">IIU/T20 8.300</text><text x="1352" y="646">FL U</text><text x="1396" y="646">RHHO</text><text x="1457" y="646">EZ78</text>
<text x="1139" y="662" text-anchor="middle">1</text><text x="1175" y="662">FEH BYO</text><text x="1235" y="662">IIO/TEB 8.300</text><text x="1352" y="662">FL U</text><text x="1396" y="662">ALHO</text><text x="1457" y="662">0/220</text>
<text x="1139" y="678" text-anchor="middle">1</text><text x="1175" y="678">PQB DVJB</text><text x="1235" y="678">IIU/TEB 3.300</text><text x="1352" y="678">FL U</text><text x="1396" y="678">RHHHRO</text><text x="1457" y="678">63218</text>
<text x="1139" y="694" text-anchor="middle">VLO</text><text x="1175" y="694">JJ</text><text x="1235" y="694">VLB11</text><text x="1352" y="694">HBH</text><text x="1396" y="694">HBTBRHO</text><text x="1457" y="694">/</text>
<text x="1139" y="710" text-anchor="middle">1LO</text><text x="1175" y="710">FGLL</text><text x="1235" y="710">AOTO8:2.200</text><text x="1352" y="710">U</text><text x="1396" y="710">BRIBB</text><text x="1457" y="710">1</text>
<text x="1139" y="726" text-anchor="middle">1</text><text x="1175" y="726">72</text><text x="1235" y="726">P070</text><text x="1352" y="726">HGB</text><text x="1396" y="726">BALBHBO</text><text x="1457" y="726">1</text>
<text x="1139" y="742" text-anchor="middle">1</text><text x="1175" y="742">PEB ERO</text><text x="1235" y="742">PR/T76.8.E01</text><text x="1352" y="742">PL.0</text><text x="1396" y="742">BRRO CB</text><text x="1457" y="742">0/930</text>
<text x="1139" y="758" text-anchor="middle">1</text><text x="1175" y="758">PEB EBD</text><text x="1235" y="758">PR/T6B 8.E01</text><text x="1352" y="758">O</text><text x="1396" y="758">BBBRO</text><text x="1457" y="758">1</text>
<text x="1139" y="774" text-anchor="middle">A.DO</text><text x="1175" y="774">PEB ERO</text><text x="1235" y="774">PR/T26 8.E01</text><text x="1352" y="774">FL U</text><text x="1396" y="774">BRB3.ERBB</text><text x="1457" y="774">0/2E1</text>
<text x="1139" y="790" text-anchor="middle">4.LO</text><text x="1175" y="790">PEB ERO</text><text x="1235" y="790">PR/T0B 8.E01</text><text x="1352" y="790">FL U</text><text x="1396" y="790">BR83 ERER</text><text x="1457" y="790">0000</text>
<text x="1139" y="806" text-anchor="middle">A.LO</text><text x="1175" y="806">PEB ERO</text><text x="1235" y="806">PR/T0B 8.2E1</text><text x="1352" y="806">FL U</text><text x="1396" y="806">BRBBO</text><text x="1457" y="806">0/2E1</text>
<text x="1139" y="822" text-anchor="middle">A/LO</text><text x="1175" y="822">PEB BBB</text><text x="1235" y="822">PR/T0B 8.2E1</text><text x="1352" y="822">FL D</text><text x="1396" y="822">BRRRO</text><text x="1457" y="822">0/283</text>
<text x="1139" y="838" text-anchor="middle">1</text><text x="1175" y="838">PEB ERO</text><text x="1235" y="838">PR/T00 8.2E1</text><text x="1352" y="838">FL D</text><text x="1396" y="838">BPO BRBB</text><text x="1457" y="838">0/2E1</text>
<text x="1139" y="854" text-anchor="middle">1</text><text x="1175" y="854">PEB EBO</text><text x="1235" y="854">PR/TAB 8.2E1</text><text x="1352" y="854">FL D</text><text x="1396" y="854">BBBBHBO</text><text x="1457" y="854">0/0D</text>
<text x="1139" y="870" text-anchor="middle">O</text><text x="1175" y="870">PEB ERO</text><text x="1235" y="870">PR/T00 8.2E1</text><text x="1352" y="870">FL D</text><text x="1396" y="870">BRBZ.BRB</text><text x="1457" y="870">0/2223</text>
<text x="1139" y="886" text-anchor="middle">O</text><text x="1175" y="886">PEB EBO</text><text x="1235" y="886">PR/T0B 8.B01</text><text x="1352" y="886">FL D</text><text x="1396" y="886">BRBZ.BRB</text><text x="1457" y="886">0/2223</text>
<text x="1139" y="902" text-anchor="middle">1</text><text x="1175" y="902">PEB EBO</text><text x="1235" y="902">PR/T0B 8.2E1</text><text x="1352" y="902">FL D</text><text x="1396" y="902">BBBBBBB2</text><text x="1457" y="902">0/333</text>
<text x="1139" y="918" text-anchor="middle">1</text><text x="1175" y="918">PEB BBO</text><text x="1235" y="918">PR/T0B 8.2E1</text><text x="1352" y="918">FL D</text><text x="1396" y="918">BBBBRO</text><text x="1457" y="918">0/0D</text>
</g>
<g class="c" text-anchor="middle" font-size="7.5">
<text x="1528" y="630">CB</text><text x="1528" y="646">CB</text><text x="1528" y="662">CB</text><text x="1528" y="678">CB</text><text x="1528" y="694">CB</text><text x="1528" y="710">CB</text><text x="1528" y="726">CB</text><text x="1528" y="742">CB</text><text x="1528" y="758">CB</text><text x="1528" y="774">CB</text><text x="1528" y="790">CB</text><text x="1528" y="806">CB</text><text x="1528" y="822">CB</text><text x="1528" y="838">CB</text><text x="1528" y="854">CB</text><text x="1528" y="870">CB</text><text x="1528" y="886">CB</text><text x="1528" y="902">CB</text><text x="1528" y="918">CB</text>
</g>

<!-- ================= TITLE BLOCK ================= -->
<rect x="1070" y="922" width="486.5" height="115" fill="#fff"/>
<g class="tl" stroke="#111" stroke-width="0.9">
<path d="M1070,934.7H1233M1070,948H1233M1070,960H1233"/>
<path d="M1070,999.5H1233M1070,1012.5H1233M1070,1024.5H1233"/>
<path d="M1233,1001.5H1354.5M1233,1022.5H1395M1314,986V1037M1354.5,986V1022.5M1253,1001.5V1022.5M1273,1001.5V1022.5M1293.5,1001.5V1022.5"/>
</g>
<g class="tb">
<rect x="1070" y="922" width="486.5" height="115"/>
<path d="M1233,922V1037M1395,922V1037M1070,986H1395M1395,959.5H1556.5M1395,999.5H1556.5"/>
<path d="M1070,973.5H1233M1091.6,922V986M1110.7,922V1037M1165.5,922V986M1205,922V986M1152,986V1037M1192,986V1037" stroke-width="1.8"/>
</g>
<g class="gt" font-weight="bold">
<text x="1081" y="983.5" font-size="8" text-anchor="middle">GO</text>
<text x="1101" y="983.5" font-size="8" text-anchor="middle">1Q</text>
<text x="1138" y="983.5" font-size="8" text-anchor="middle">OII I OO</text>
<text x="1185" y="983.5" font-size="8" text-anchor="middle">O II</text>
<text x="1219" y="983.5" font-size="8" text-anchor="middle">1 O</text>
<text x="1090.5" y="996" font-size="8.5" text-anchor="middle">O Q</text>
<text x="1131" y="996" font-size="8.5" text-anchor="middle">OOB</text>
<text x="1172" y="996" font-size="8.5" text-anchor="middle">IIOG</text>
<text x="1090.5" y="1022" font-size="8.5" text-anchor="middle">V II</text>
<text x="1090.5" y="1034" font-size="8" text-anchor="middle">O II</text>
<text x="1172" y="1034" font-size="8" text-anchor="middle">II M</text>
<text x="1212" y="1034" font-size="6.5" text-anchor="middle">设计 审核</text>
<text x="1273" y="997.5" font-size="10" text-anchor="middle">HOBC</text>
<text x="1334" y="997.5" font-size="10" text-anchor="middle">80</text>
<text x="1258.5" y="1034" font-size="9" text-anchor="middle">0</text>
<text x="1288" y="1034" font-size="9" text-anchor="middle">D</text>
<text x="1339.5" y="1034" font-size="9" text-anchor="middle">0</text>
<text x="1369" y="1034" font-size="9" text-anchor="middle">6</text>
</g>
<text x="1375" y="997" font-size="8" fill="#9bbf80" text-anchor="middle" opacity="0.7">比例</text>
<text x="1377" y="1018" font-size="8" fill="#a8b8a8" text-anchor="middle">10</text>
<text x="1314" y="962" font-size="19" class="gt" text-anchor="middle" font-weight="normal">设备管口图</text>
<text x="1477" y="946.5" font-size="12.5" fill="#4f9b2a" text-anchor="middle" font-weight="bold" textLength="130" lengthAdjust="spacingAndGlyphs">无锡市双盛机械设备有限公司</text>
<text x="1476" y="984" font-size="10.5" fill="#7fb060" text-anchor="middle" font-weight="bold" opacity="0.8" textLength="142" lengthAdjust="spacingAndGlyphs">反应釜设备管口方位图 1B --</text>
<text x="1476" y="1023.5" font-size="16" fill="#6a8a3a" text-anchor="middle" textLength="63" lengthAdjust="spacingAndGlyphs">OXG-5060</text>
</svg>
</body></html>
